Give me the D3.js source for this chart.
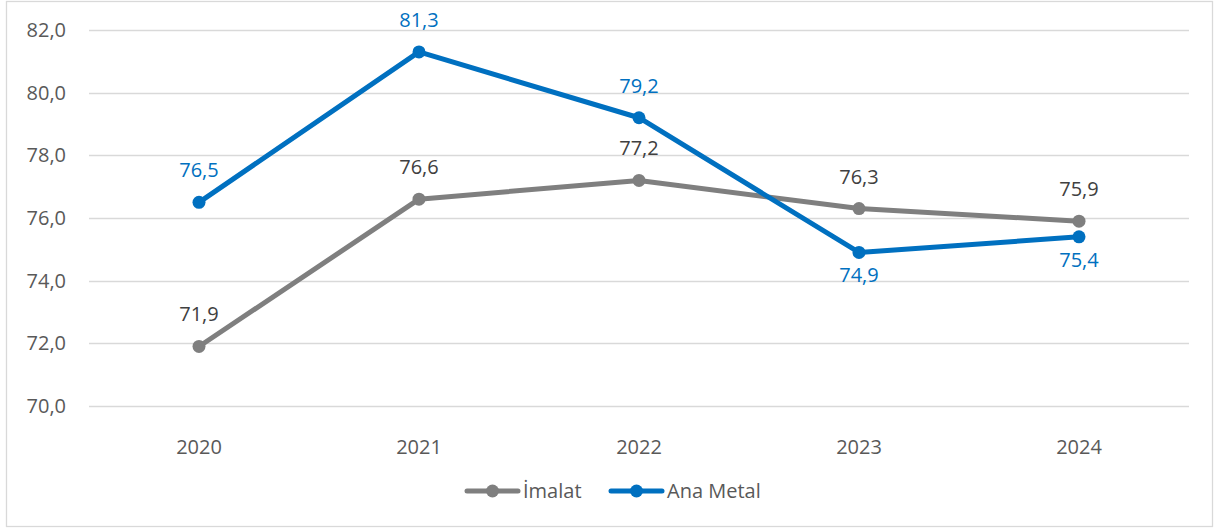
<!DOCTYPE html>
<html>
<head>
<meta charset="utf-8">
<script src="https://cdn.jsdelivr.net/npm/d3@7"></script>
<style>
  html, body { margin: 0; padding: 0; background: #fff; }
  svg { display: block; font-family: "Open Sans", "Noto Sans", sans-serif; }
</style>
</head>
<body>
<svg id="chart" width="1221" height="529"></svg>
<script>
// Years on the x axis
const years = ["2020", "2021", "2022", "2023", "2024"];
// Series values
const imalat = [71.9, 76.6, 77.2, 76.3, 75.9];
const anaMetal = [76.5, 81.3, 79.2, 74.9, 75.4];
// Y axis ticks
const yTicks = [70, 72, 74, 76, 78, 80, 82];
// Label placement for Ana Metal (above/below)
const anaMetalLabelPos = ["above", "above", "above", "below", "below"];

const series = [
  { name: "İmalat", values: imalat, color: "#7f7f7f", labelColor: "#404040", labelPos: years.map(() => "above") },
  { name: "Ana Metal", values: anaMetal, color: "#0070c0", labelColor: "#0070c0", labelPos: anaMetalLabelPos }
];

const svg = d3.select("#chart");
const fmt = v => d3.format(".1f")(v).replace(".", ",");
const FS = 20;

// Outer chart border
svg.append("rect")
  .attr("x", 6.5).attr("y", 1.5)
  .attr("width", 1206).attr("height", 525)
  .attr("fill", "none").attr("stroke", "#d9d9d9").attr("stroke-width", 1.3);

const x = d3.scaleBand().domain(years).range([89, 1189]);
const y = d3.scaleLinear().domain([70, 82]).range([406, 30]);

// Horizontal gridlines
svg.append("g").selectAll("line").data(yTicks).join("line")
  .attr("x1", 89).attr("x2", 1189)
  .attr("y1", d => Math.round(y(d)) + 0.5).attr("y2", d => Math.round(y(d)) + 0.5)
  .attr("stroke", "#d9d9d9").attr("stroke-width", 1.3);

// Y axis labels
svg.append("g").selectAll("text").data(yTicks).join("text")
  .attr("x", 66).attr("y", d => y(d) + 7)
  .attr("text-anchor", "end")
  .attr("fill", "#595959").attr("font-size", FS)
  .text(d => fmt(d));

// X axis labels
svg.append("g").selectAll("text").data(years).join("text")
  .attr("x", d => x(d) + x.bandwidth() / 2).attr("y", 454)
  .attr("text-anchor", "middle")
  .attr("fill", "#595959").attr("font-size", FS)
  .text(d => d);

const cx = i => x(years[i]) + x.bandwidth() / 2;
const line = d3.line().x((d, i) => cx(i)).y(d => y(d));

series.forEach(s => {
  const g = svg.append("g");
  g.append("path").datum(s.values)
    .attr("d", line).attr("fill", "none")
    .attr("stroke", s.color).attr("stroke-width", 5)
    .attr("stroke-linejoin", "round").attr("stroke-linecap", "round");
  g.selectAll("circle").data(s.values).join("circle")
    .attr("cx", (d, i) => cx(i)).attr("cy", d => y(d)).attr("r", 6.5)
    .attr("fill", s.color);
  g.selectAll("text").data(s.values).join("text")
    .attr("x", (d, i) => cx(i))
    .attr("y", (d, i) => y(d) + (s.labelPos[i] === "above" ? -25 : 30))
    .attr("text-anchor", "middle")
    .attr("fill", s.labelColor).attr("font-size", FS)
    .text(d => fmt(d));
});

// Legend
const legendItems = [
  { s: series[0], x0: 465 },
  { s: series[1], x0: 609 }
];
legendItems.forEach(({ s, x0 }) => {
  const g = svg.append("g").attr("transform", `translate(${x0},491)`);
  g.append("line").attr("x1", 2).attr("x2", 53).attr("y1", 0).attr("y2", 0)
    .attr("stroke", s.color).attr("stroke-width", 5).attr("stroke-linecap", "round");
  g.append("circle").attr("cx", 27.5).attr("cy", 0).attr("r", 6.5).attr("fill", s.color);
  g.append("text").attr("x", 58).attr("y", 7)
    .attr("fill", "#595959").attr("font-size", FS)
    .text(s.name);
});
</script>
</body>
</html>
